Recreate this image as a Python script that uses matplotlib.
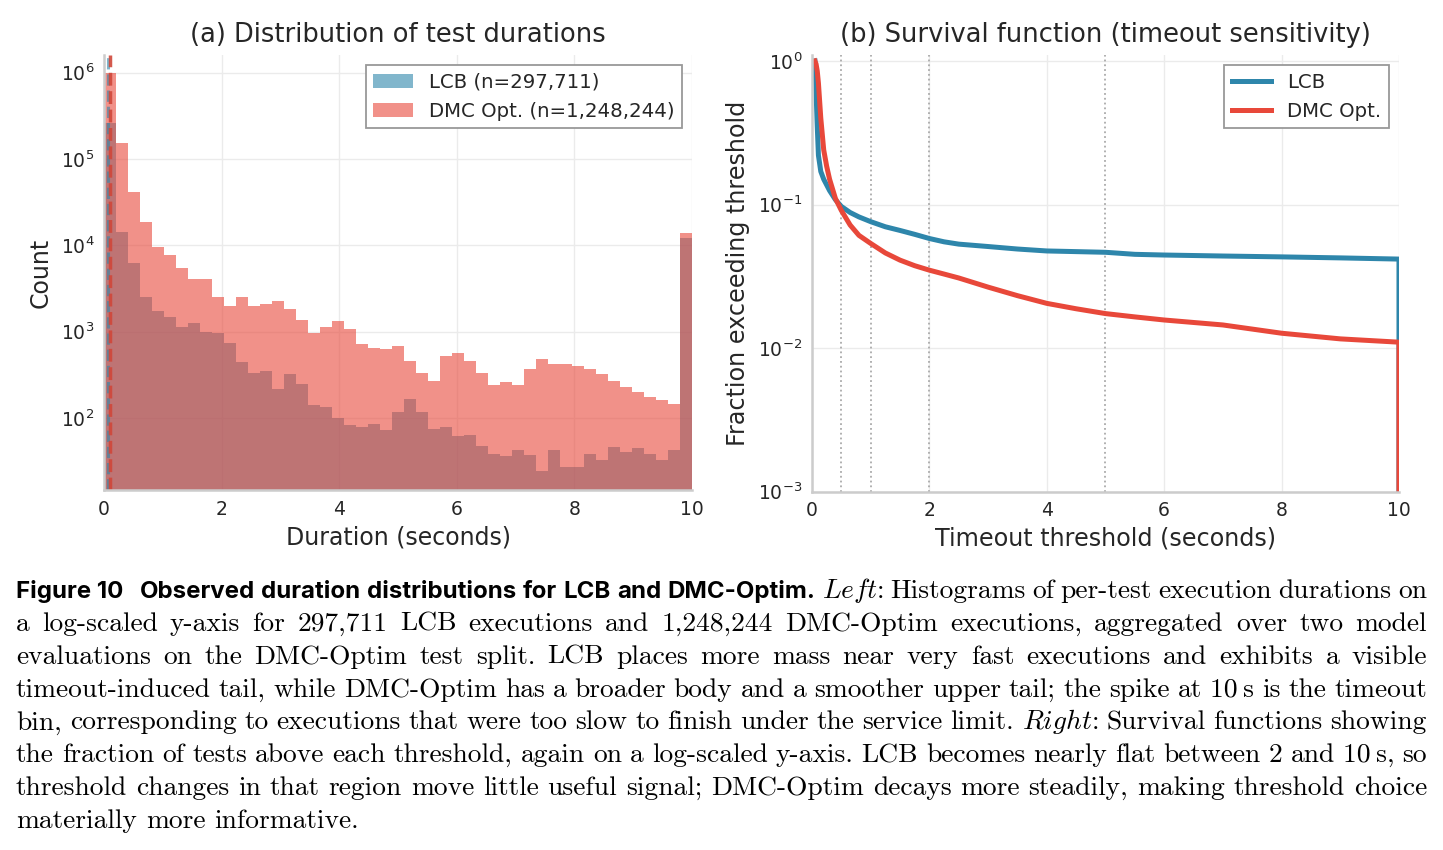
import numpy as np
import matplotlib
matplotlib.use("Agg")
import matplotlib.pyplot as plt
from matplotlib.transforms import IdentityTransform


# -------------------------------------------------
# Data
# -------------------------------------------------

# histogram: 49 equal bins between 0 and 10 seconds
bin_edges = np.linspace(0, 10, 50)

lcb_counts = [260000, 14100, 6300, 2500, 1740, 1500, 1120, 1260, 1000, 970,
              740, 450, 330, 350, 220, 325, 245, 140, 133, 100,
              83, 78, 85, 73, 119, 165, 119, 74, 78, 62,
              63, 47, 38, 36, 43, 37, 24.5, 43, 27.5, 27.5,
              38, 33, 46, 40, 45, 38, 33, 43, 12300]

dmc_counts = [980000, 155000, 42000, 18700, 9600, 7700, 5500, 4100, 4100, 2500,
              2000, 2500, 1960, 2100, 2260, 1820, 1370, 960, 1120, 1320,
              1070, 720, 650, 630, 690, 460, 330, 270, 530, 570,
              460, 330, 240, 260, 240, 370, 480, 425, 420, 400,
              370, 320, 270, 230, 200, 175, 160, 146, 13800]

# median markers (seconds)
lcb_median = 0.07
dmc_median = 0.10

# survival function
thresholds = [0.05, 0.07, 0.09, 0.11, 0.15, 0.2, 0.25, 0.3, 0.4, 0.5,
              0.65, 0.8, 1.0, 1.25, 1.5, 1.75, 2.0, 2.25, 2.5, 3.0,
              3.5, 4.0, 4.5, 5.0, 5.5, 6.0, 7.0, 8.0, 9.0, 10.0, 10.0]

lcb_survival = [1.0, 0.6, 0.35, 0.22, 0.17, 0.15, 0.137, 0.125, 0.108, 0.097,
                0.088, 0.082, 0.076, 0.070, 0.066, 0.062, 0.058, 0.055, 0.053, 0.051,
                0.049, 0.0475, 0.047, 0.0465, 0.045, 0.0445, 0.0438, 0.0432, 0.0425, 0.0417, 0.0]

dmc_survival = [1.0, 0.95, 0.85, 0.7, 0.4, 0.24, 0.185, 0.15, 0.11, 0.091,
                0.072, 0.061, 0.0536, 0.046, 0.041, 0.0375, 0.0349, 0.0328, 0.0308, 0.0266,
                0.0232, 0.0205, 0.0188, 0.0174, 0.0165, 0.0157, 0.0145, 0.0127, 0.0116, 0.011, 0.0]

timeout_marks = [0.5, 1, 2, 5]

lcb_label = "LCB"
dmc_label = "DMC Opt."
n_lcb = 297711
n_dmc = 1248244

LCB_COLOR = "#2E86AB"
DMC_COLOR = "#E8483A"


# -------------------------------------------------
# Style
# -------------------------------------------------

plt.rcParams["font.family"] = ["DejaVu Sans"]
plt.rcParams["axes.edgecolor"] = "#cccccc"
plt.rcParams["axes.linewidth"] = 1.8
plt.rcParams["grid.color"] = "#ebebeb"
plt.rcParams["grid.linewidth"] = 1.0
plt.rcParams["text.color"] = "#262626"
plt.rcParams["axes.labelcolor"] = "#262626"
plt.rcParams["xtick.color"] = "#262626"
plt.rcParams["ytick.color"] = "#262626"

fig = plt.figure(figsize=(14.43, 8.5), dpi=100)
ax1 = fig.add_axes([0.0721, 0.4235, 0.4075, 0.5118])
ax2 = fig.add_axes([0.5627, 0.4215, 0.4068, 0.5138])


def style_axes(ax):
    ax.set_axisbelow(True)
    ax.grid(True, which="major")
    for side in ["top", "right"]:
        ax.spines[side].set_visible(False)
    ax.tick_params(axis="both", which="both", length=0, labelsize=13.5, pad=7)
    ax.minorticks_off()


# -------------------------------------------------
# (a) Histogram
# -------------------------------------------------

ax1.hist(bin_edges[:-1], bins=bin_edges, weights=lcb_counts,
         color=LCB_COLOR, alpha=0.6,
         label=f"{lcb_label} (n={n_lcb:,})")
ax1.hist(bin_edges[:-1], bins=bin_edges, weights=dmc_counts,
         color=DMC_COLOR, alpha=0.6,
         label=f"{dmc_label} (n={n_dmc:,})")

ax1.axvline(lcb_median, color=LCB_COLOR, linestyle="--", linewidth=2.2, alpha=0.6)
ax1.axvline(dmc_median, color="#D0473A", linestyle="--", linewidth=2.5, alpha=0.9)

ax1.set_yscale("log")
ax1.set_xlim(0, 10)
ax1.set_ylim(14.7, 1.6e6)
ax1.set_xticks([0, 2, 4, 6, 8, 10])
style_axes(ax1)

ax1.set_title("(a) Distribution of test durations", fontsize=18.5, pad=9)
ax1.set_xlabel("Duration (seconds)", fontsize=17, labelpad=5)
ax1.set_ylabel("Count", fontsize=17, labelpad=6)

leg1 = ax1.legend(loc="upper right", fontsize=14.2, fancybox=False,
                  framealpha=1, edgecolor="#999999")
leg1.get_frame().set_linewidth(1.3)


# -------------------------------------------------
# (b) Survival function
# -------------------------------------------------

for t in timeout_marks:
    ax2.axvline(t, color="#aaaaaa", linestyle=":", linewidth=1.3)

ax2.plot(thresholds, lcb_survival, color=LCB_COLOR, linewidth=3.6, label=lcb_label)
ax2.plot(thresholds, dmc_survival, color=DMC_COLOR, linewidth=3.6, label=dmc_label)

ax2.set_yscale("log")
ax2.set_xlim(0, 10)
ax2.set_ylim(1e-3, 1.1)
ax2.set_xticks([0, 2, 4, 6, 8, 10])
style_axes(ax2)

ax2.set_title("(b) Survival function (timeout sensitivity)", fontsize=18.5, pad=9)
ax2.set_xlabel("Timeout threshold (seconds)", fontsize=17.2, labelpad=4)
ax2.set_ylabel("Fraction exceeding threshold", fontsize=17.2, labelpad=6)

leg2 = ax2.legend(loc="upper right", fontsize=14.2, fancybox=False,
                  framealpha=1, edgecolor="#999999")
leg2.get_frame().set_linewidth(1.3)


# -------------------------------------------------
# Caption (justified, typeset word by word)
# -------------------------------------------------

caption_lines = [
    [("Figure\u00a010  Observed duration distributions for LCB and DMC-Optim.", "b"),
     ("Left:", "i"), ("Histograms of per-test execution durations on", "r")],
    [("a log-scaled y-axis for 297,711 LCB executions and 1,248,244 DMC-Optim "
      "executions, aggregated over two model", "r")],
    [("evaluations on the DMC-Optim test split. LCB places more mass near very "
      "fast executions and exhibits a visible", "r")],
    [("timeout-induced tail, while DMC-Optim has a broader body and a smoother "
      "upper tail; the spike at 10\u2009s is the timeout", "r")],
    [("bin, corresponding to executions that were too slow to finish under the "
      "service limit.", "r"), ("Right:", "i"), ("Survival functions showing", "r")],
    [("the fraction of tests above each threshold, again on a log-scaled y-axis. "
      "LCB becomes nearly flat between 2 and 10\u2009s, so", "r")],
    [("threshold changes in that region move little useful signal; DMC-Optim "
      "decays more steadily, making threshold choice", "r")],
    [("materially more informative.", "r")],
]

CAPTION_SIZE = 19.8
caption_styles = {
    "r": dict(family=["cmr10", "DejaVu Serif"], fontsize=CAPTION_SIZE, color="black"),
    "b": dict(family=["Inter", "DejaVu Sans"], fontweight="bold",
              fontsize=17.3, color="black"),
    "i": dict(family=["cmr10", "DejaVu Serif"], fontsize=CAPTION_SIZE, color="black",
              math_fontfamily="cm"),
}

FIG_H = 850
left_px, right_px = 16, 1427
first_baseline = 598
line_step = 32.85
quad_px = 10

renderer = fig.canvas.get_renderer()

for i, line in enumerate(caption_lines):
    words = []
    extra = []
    for segment, style in line:
        for w in segment.split(" "):
            if w == "":
                # double space -> a wider gap after the previous word
                extra[-1] += quad_px
                continue
            if style == "i":
                w = r"$\mathit{" + w.rstrip(":") + "}$:"
            words.append(fig.text(0, 0, w, transform=IdentityTransform(),
                                  ha="left", va="baseline",
                                  **caption_styles[style]))
            extra.append(0)
    widths = [w.get_window_extent(renderer).width for w in words]
    last_line = i == len(caption_lines) - 1
    if last_line or len(words) == 1:
        gap = CAPTION_SIZE * 100 / 72 * 0.33
    else:
        gap = (right_px - left_px - sum(widths) - sum(extra)) / (len(words) - 1)
    x = left_px
    y = FIG_H - (first_baseline + i * line_step)
    for w, wd, ex in zip(words, widths, extra):
        w.set_position((x, y))
        x += wd + gap + ex


fig.savefig("out.png", dpi=100)
